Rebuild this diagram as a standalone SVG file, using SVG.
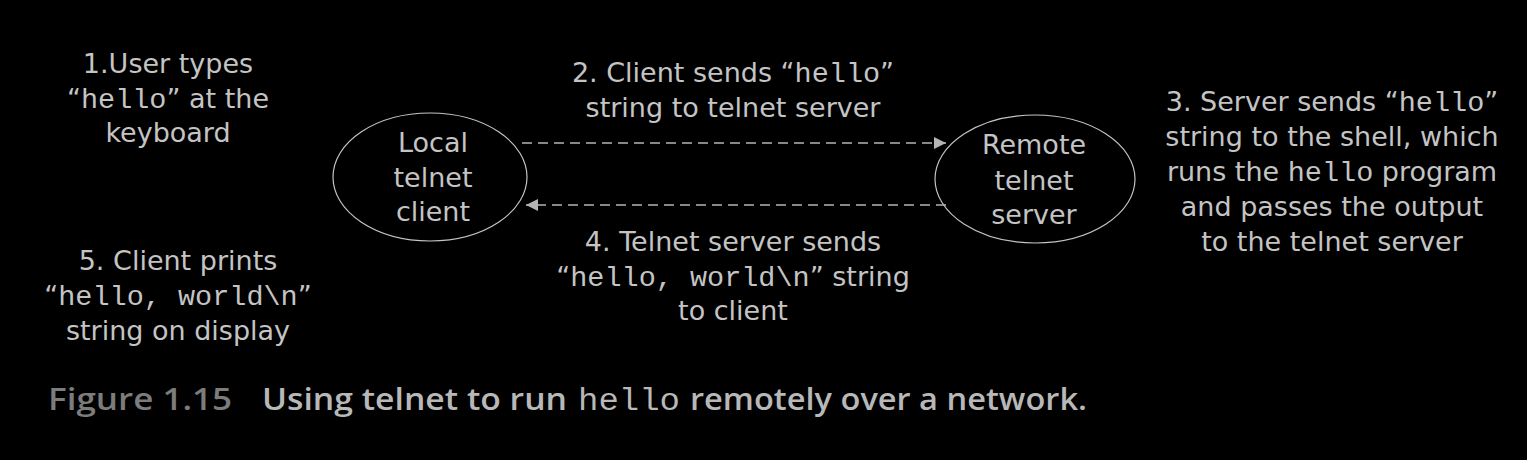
<svg xmlns="http://www.w3.org/2000/svg" width="1527" height="460" viewBox="0 0 1527 460">
<style>
.t{font-family:"DejaVu Sans","Liberation Sans",sans-serif;font-size:27px;fill:#c4c4c4;text-anchor:middle}
.m{font-family:"Liberation Mono","Courier New",monospace;font-size:28.5px}
.node{fill:none;stroke:#c4c4c4;stroke-width:1.2}
.edge{fill:none;stroke:#b4b4b4;stroke-width:1.6;stroke-dasharray:10 6}
.cap{font-family:"Open Sans",Lato,sans-serif;font-size:30px;font-weight:600}
</style>
<defs>
<marker id="ah" viewBox="0 0 12 12" refX="12" refY="6" markerWidth="12" markerHeight="12" markerUnits="userSpaceOnUse" orient="auto">
<path d="M0,0 L12,6 L0,12 z" fill="#b4b4b4"/>
</marker>
</defs>
<rect width="1527" height="460" fill="#000"/>
<g id="client">
<ellipse class="node" cx="430" cy="177" rx="97" ry="64"/>
<text class="t" x="433" y="152">Local</text>
<text class="t" x="433" y="187">telnet</text>
<text class="t" x="433" y="221">client</text>
</g>
<g id="server">
<ellipse class="node" cx="1035" cy="179" rx="100" ry="64"/>
<text class="t" x="1034" y="154">Remote</text>
<text class="t" x="1034" y="190">telnet</text>
<text class="t" x="1034" y="224">server</text>
</g>
<g id="connectors">
<path class="edge" d="M522,143 L946,143" marker-end="url(#ah)"/>
<path class="edge" d="M946,205 L526,205" marker-end="url(#ah)"/>
</g>
<g id="labels">
<text class="t" x="168" y="73">1.User types</text>
<text class="t" x="168" y="108">“<tspan class="m">hello</tspan>” at the</text>
<text class="t" x="168" y="142">keyboard</text>
<text class="t" x="178" y="270">5. Client prints</text>
<text class="t" x="178" y="305">“<tspan class="m">hello, world\n</tspan>”</text>
<text class="t" x="178" y="340">string on display</text>
<text class="t" x="733" y="82">2. Client sends “<tspan class="m">hello</tspan>”</text>
<text class="t" x="733" y="117">string to telnet server</text>
<text class="t" x="733" y="251">4. Telnet server sends</text>
<text class="t" x="733" y="286">“<tspan class="m">hello, world\n</tspan>” string</text>
<text class="t" x="733" y="320">to client</text>
<text class="t" x="1332" y="111">3. Server sends “<tspan class="m">hello</tspan>”</text>
<text class="t" x="1332" y="146">string to the shell, which</text>
<text class="t" x="1332" y="181">runs the <tspan class="m">hello</tspan> program</text>
<text class="t" x="1332" y="216">and passes the output</text>
<text class="t" x="1332" y="251">to the telnet server</text>
</g>
<g id="caption">
<text class="cap" x="48" y="410" fill="#7c7c7c" textLength="184" lengthAdjust="spacingAndGlyphs">Figure 1.15</text>
<text class="cap" x="262" y="410" fill="#b8b8b8" textLength="305" lengthAdjust="spacingAndGlyphs">Using telnet to run</text>
<text x="578" y="410" fill="#b8b8b8" font-family="Liberation Mono,monospace" font-size="31" textLength="102" lengthAdjust="spacingAndGlyphs">hello</text>
<text class="cap" x="690" y="410" fill="#b8b8b8" textLength="397" lengthAdjust="spacingAndGlyphs">remotely over a network.</text>
</g>
</svg>
